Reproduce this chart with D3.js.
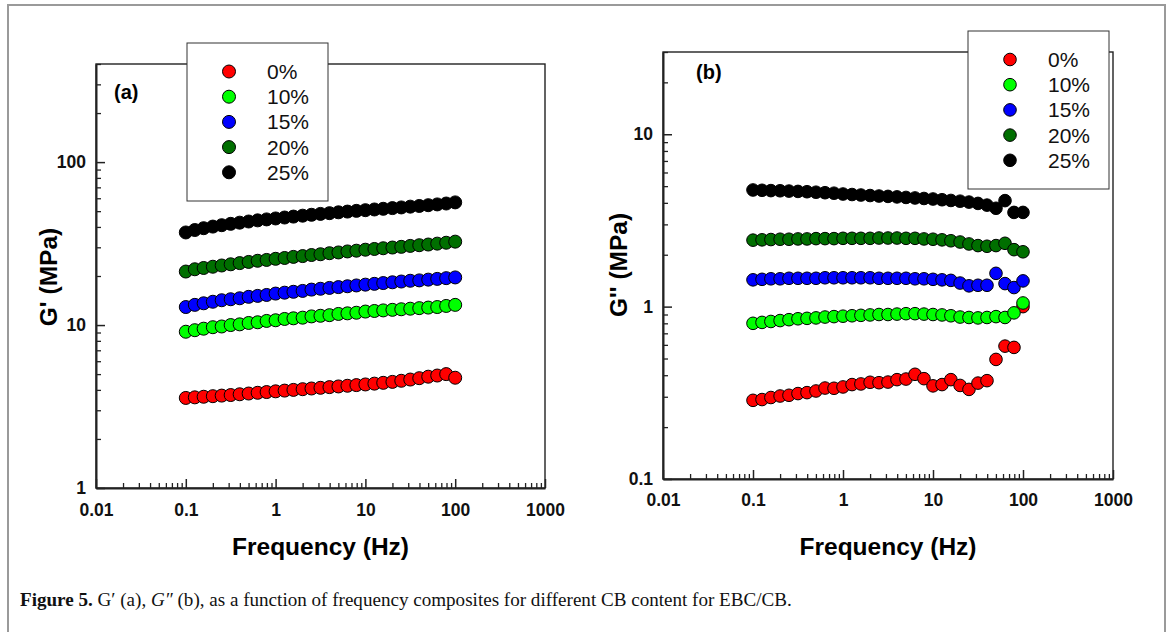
<!DOCTYPE html>
<html>
<head>
<meta charset="utf-8">
<script src="https://cdn.jsdelivr.net/npm/d3@7"></script>
<style>
  body { margin: 0; background: #fff; }
  svg text { font-family: "Liberation Sans", Arial, sans-serif; }
</style>
</head>
<body>
<div id="figure"></div>
<script>
// frequency sweep points (Hz), same for every sample
const frequencies = [0.1, 0.126, 0.158, 0.2, 0.251, 0.316, 0.398, 0.501, 0.631, 0.794,
  1, 1.26, 1.58, 2, 2.51, 3.16, 3.98, 5.01, 6.31, 7.94,
  10, 12.6, 15.8, 20, 25.1, 31.6, 39.8, 50.1, 63.1, 79.4, 100];

const contents = ["0%", "10%", "15%", "20%", "25%"];
const seriesColors = ["#ff0000", "#00ff00", "#0000ff", "#006f00", "#000000"];

// G' (MPa) - panel (a)
const gPrime0 = [3.57, 3.60, 3.63, 3.66, 3.69, 3.72, 3.76, 3.80, 3.84, 3.88,
  3.92, 3.96, 4.00, 4.04, 4.08, 4.12, 4.16, 4.20, 4.24, 4.28,
  4.32, 4.37, 4.42, 4.48, 4.55, 4.63, 4.72, 4.82, 4.90, 5.00, 4.75];
const gPrime10 = [9.1, 9.3, 9.5, 9.7, 9.8, 10.0, 10.1, 10.3, 10.4, 10.6,
  10.7, 10.9, 11.0, 11.1, 11.3, 11.4, 11.5, 11.7, 11.8, 11.9,
  12.1, 12.2, 12.3, 12.4, 12.5, 12.6, 12.7, 12.8, 12.9, 13.1, 13.3];
const gPrime15 = [12.9, 13.3, 13.6, 13.9, 14.2, 14.4, 14.6, 14.9, 15.1, 15.3,
  15.6, 15.8, 16.0, 16.2, 16.5, 16.7, 16.9, 17.1, 17.3, 17.5,
  17.7, 17.9, 18.1, 18.3, 18.5, 18.7, 18.8, 19.0, 19.2, 19.4, 19.6];
const gPrime20 = [21.3, 22.0, 22.4, 22.8, 23.2, 23.6, 24.0, 24.4, 24.8, 25.1,
  25.5, 25.8, 26.2, 26.5, 26.9, 27.2, 27.6, 27.9, 28.3, 28.6,
  29.0, 29.3, 29.6, 29.9, 30.2, 30.6, 30.9, 31.2, 31.6, 32.0, 32.5];
const gPrime25 = [37.0, 38.3, 39.3, 40.2, 41.0, 41.8, 42.5, 43.2, 43.9, 44.5,
  45.1, 45.7, 46.3, 46.9, 47.5, 48.1, 48.6, 49.2, 49.7, 50.2,
  50.7, 51.2, 51.7, 52.2, 52.7, 53.3, 53.8, 54.4, 55.0, 55.7, 56.6];

// G'' (MPa) - panel (b)
const gDouble0 = [0.286, 0.289, 0.297, 0.303, 0.306, 0.313, 0.317, 0.324, 0.337, 0.336,
  0.342, 0.353, 0.356, 0.364, 0.362, 0.365, 0.377, 0.380, 0.405, 0.382,
  0.347, 0.353, 0.377, 0.349, 0.331, 0.360, 0.372, 0.494, 0.590, 0.580, 1.0];
const gDouble10 = [0.80, 0.81, 0.82, 0.83, 0.84, 0.85, 0.855, 0.86, 0.87, 0.875,
  0.88, 0.885, 0.89, 0.895, 0.90, 0.90, 0.905, 0.91, 0.91, 0.905,
  0.90, 0.895, 0.885, 0.87, 0.865, 0.86, 0.865, 0.875, 0.865, 0.92, 1.05];
const gDouble15 = [1.43, 1.44, 1.45, 1.45, 1.46, 1.46, 1.46, 1.46, 1.47, 1.47,
  1.47, 1.47, 1.47, 1.47, 1.46, 1.46, 1.46, 1.46, 1.45, 1.45,
  1.44, 1.43, 1.42, 1.37, 1.32, 1.33, 1.33, 1.56, 1.36, 1.29, 1.41];
const gDouble20 = [2.43, 2.44, 2.45, 2.46, 2.46, 2.47, 2.47, 2.48, 2.48, 2.48,
  2.49, 2.49, 2.49, 2.49, 2.50, 2.50, 2.50, 2.49, 2.49, 2.47,
  2.46, 2.44, 2.41, 2.37, 2.31, 2.26, 2.24, 2.26, 2.33, 2.14, 2.08];
const gDouble25 = [4.75, 4.73, 4.71, 4.70, 4.68, 4.66, 4.64, 4.61, 4.58, 4.55,
  4.50, 4.47, 4.44, 4.41, 4.38, 4.36, 4.33, 4.30, 4.27, 4.24,
  4.21, 4.17, 4.13, 4.09, 4.04, 3.97, 3.88, 3.72, 4.12, 3.52, 3.52];

// tick labels
const xTicks = [0.01, 0.1, 1, 10, 100, 1000];
const xTickLabels = ["0.01", "0.1", "1", "10", "100", "1000"];
const yTicksA = [1, 10, 100];
const yTickLabelsA = ["1", "10", "100"];
const yTicksB = [0.1, 1, 10];
const yTickLabelsB = ["0.1", "1", "10"];

const svg = d3.select("#figure")
  .append("svg")
  .attr("width", 1171)
  .attr("height", 632);

// outer figure frame (bottom edge runs off the page)
svg.append("path")
  .attr("d", "M8,640 V5 H1165 V640")
  .attr("fill", "none")
  .attr("stroke", "#9a9a9a")
  .attr("stroke-width", 2);

/**
 * One frequency sweep panel: log-log scatter, legend in a box
 */
class FrequencySweep {
  constructor(series, _config) {
    this.config = {
      left: _config.left,
      top: _config.top,
      width: _config.width,
      height: _config.height,
      yDomain: _config.yDomain,
      yTicks: _config.yTicks,
      yTickLabels: _config.yTickLabels,
      yAxisLabel: _config.yAxisLabel,
      yLabelPos: _config.yLabelPos,
      xLabelY: _config.xLabelY,
      xTickPadding: _config.xTickPadding || 16,
      panelLabel: _config.panelLabel,
      panelLabelPos: _config.panelLabelPos,
      legendPos: _config.legendPos,
      radius: _config.radius || 6.5,
    };
    this.series = series;
    this.init();
  }
  init() {
    let vis = this;
    const c = vis.config;
    vis.g = svg.append("g").attr("transform", `translate(${c.left},${c.top})`);

    vis.x = d3.scaleLog().domain([0.01, 1000]).range([0, c.width]);
    vis.y = d3.scaleLog().domain(c.yDomain).range([c.height, 0]);

    // plot box
    vis.g.append("rect")
      .attr("width", c.width)
      .attr("height", c.height)
      .attr("fill", "none")
      .attr("stroke", "#222")
      .attr("stroke-width", 1.4);

    // minor ticks (inside)
    const xMinor = vis.x.ticks().filter((t) => !xTicks.some((m) => Math.abs(m / t - 1) < 1e-6));
    const yMinor = vis.y.ticks().filter((t) => !c.yTicks.some((m) => Math.abs(m / t - 1) < 1e-6));

    vis.g.append("g")
      .attr("transform", `translate(0,${c.height})`)
      .call(d3.axisBottom(vis.x).tickValues(xMinor).tickSizeInner(-5).tickSizeOuter(0).tickFormat(""))
      .call((g) => g.select(".domain").remove())
      .call((g) => g.selectAll("line").attr("stroke", "#222").attr("stroke-width", 1.3));

    vis.g.append("g")
      .call(d3.axisLeft(vis.y).tickValues(yMinor).tickSizeInner(-5).tickSizeOuter(0).tickFormat(""))
      .call((g) => g.select(".domain").remove())
      .call((g) => g.selectAll("line").attr("stroke", "#222").attr("stroke-width", 1.3));

    // major ticks + labels
    vis.g.append("g")
      .attr("transform", `translate(0,${c.height})`)
      .call(d3.axisBottom(vis.x).tickValues(xTicks).tickSizeInner(-9).tickSizeOuter(0)
        .tickPadding(c.xTickPadding).tickFormat((d, i) => xTickLabels[i]))
      .call((g) => g.select(".domain").attr("stroke", "#222").attr("stroke-width", 2))
      .call((g) => g.selectAll("line").attr("stroke", "#222").attr("stroke-width", 1.5))
      .call((g) => g.selectAll("text")
        .attr("fill", "#111")
        .style("font-size", "17.5px")
        .style("font-weight", "bold"));

    vis.g.append("g")
      .call(d3.axisLeft(vis.y).tickValues(c.yTicks).tickSizeInner(-9).tickSizeOuter(0)
        .tickPadding(10).tickFormat((d, i) => c.yTickLabels[i]))
      .call((g) => g.select(".domain").attr("stroke", "#222").attr("stroke-width", 2))
      .call((g) => g.selectAll("line").attr("stroke", "#222").attr("stroke-width", 1.5))
      .call((g) => g.selectAll("text")
        .attr("fill", "#111")
        .style("font-size", "17.5px")
        .style("font-weight", "bold"));

    // points, one series after another, later points on top
    vis.series.forEach((s, k) => {
      vis.g.append("g")
        .selectAll("circle")
        .data(s)
        .join("circle")
        .attr("cx", (d, i) => vis.x(frequencies[i]))
        .attr("cy", (d) => vis.y(d))
        .attr("r", c.radius)
        .attr("fill", seriesColors[k])
        .attr("stroke", "#000")
        .attr("stroke-width", 1);
    });

    // panel label
    vis.g.append("text")
      .attr("x", c.panelLabelPos[0])
      .attr("y", c.panelLabelPos[1])
      .style("font-size", "20px")
      .style("font-weight", "bold")
      .text(c.panelLabel);

    // axis titles
    vis.g.append("text")
      .attr("x", c.width / 2)
      .attr("y", c.xLabelY)
      .attr("text-anchor", "middle")
      .style("font-size", "24.5px")
      .style("font-weight", "bold")
      .text("Frequency (Hz)");

    vis.g.append("text")
      .attr("transform", `translate(${c.yLabelPos[0]},${c.yLabelPos[1]}) rotate(-90)`)
      .attr("text-anchor", "middle")
      .attr("dy", "0.35em")
      .style("font-size", "24.5px")
      .style("font-weight", "bold")
      .text(c.yAxisLabel);

    // legend box covers the plot frame
    const legend = vis.g.append("g")
      .attr("transform", `translate(${c.legendPos[0]},${c.legendPos[1]})`);
    legend.append("rect")
      .attr("width", 141)
      .attr("height", 158)
      .attr("fill", "#fff")
      .attr("stroke", "#333")
      .attr("stroke-width", 1);
    contents.forEach((name, k) => {
      const row = legend.append("g").attr("transform", `translate(0,${28.5 + k * 25.2})`);
      row.append("circle")
        .attr("cx", 42)
        .attr("r", c.radius)
        .attr("fill", seriesColors[k])
        .attr("stroke", "#000")
        .attr("stroke-width", 1);
      row.append("text")
        .attr("x", 80)
        .attr("dy", "0.36em")
        .style("font-size", "21px")
        .attr("fill", "#111")
        .text(name);
    });
  }
}

new FrequencySweep([gPrime0, gPrime10, gPrime15, gPrime20, gPrime25], {
  left: 96, top: 64, width: 449, height: 424,
  yDomain: [1, 400],
  yTicks: yTicksA,
  yTickLabels: yTickLabelsA,
  yAxisLabel: "G' (MPa)",
  yLabelPos: [-48, 213],
  xLabelY: 491,
  xTickPadding: 16,
  panelLabel: "(a)",
  panelLabelPos: [18, 35],
  legendPos: [91, -21],
  radius: 6.5,
});

new FrequencySweep([gDouble0, gDouble10, gDouble15, gDouble20, gDouble25], {
  left: 663, top: 52, width: 450, height: 427,
  yDomain: [0.1, 30],
  yTicks: yTicksB,
  yTickLabels: yTickLabelsB,
  yAxisLabel: "G'' (MPa)",
  yLabelPos: [-45, 213],
  xLabelY: 503,
  xTickPadding: 15,
  panelLabel: "(b)",
  panelLabelPos: [33, 27],
  legendPos: [305, -21],
  radius: 6.3,
});

// caption
const caption = svg.append("text")
  .attr("x", 20)
  .attr("y", 606)
  .attr("fill", "#111")
  .style("font-family", "'Liberation Serif', 'Times New Roman', serif")
  .style("font-size", "16px");
caption.append("tspan").style("font-weight", "bold").text("Figure 5.");
caption.append("tspan").text(" G\u2032 (a), ");
caption.append("tspan").style("font-style", "italic").text("G\u2033");
caption.append("tspan").text(" (b), as a function of frequency composites for different CB content for EBC/CB.");
const capLen = caption.node().getComputedTextLength();
caption.style("font-size", (16 * 772 / capLen).toFixed(2) + "px");
</script>
</body>
</html>
